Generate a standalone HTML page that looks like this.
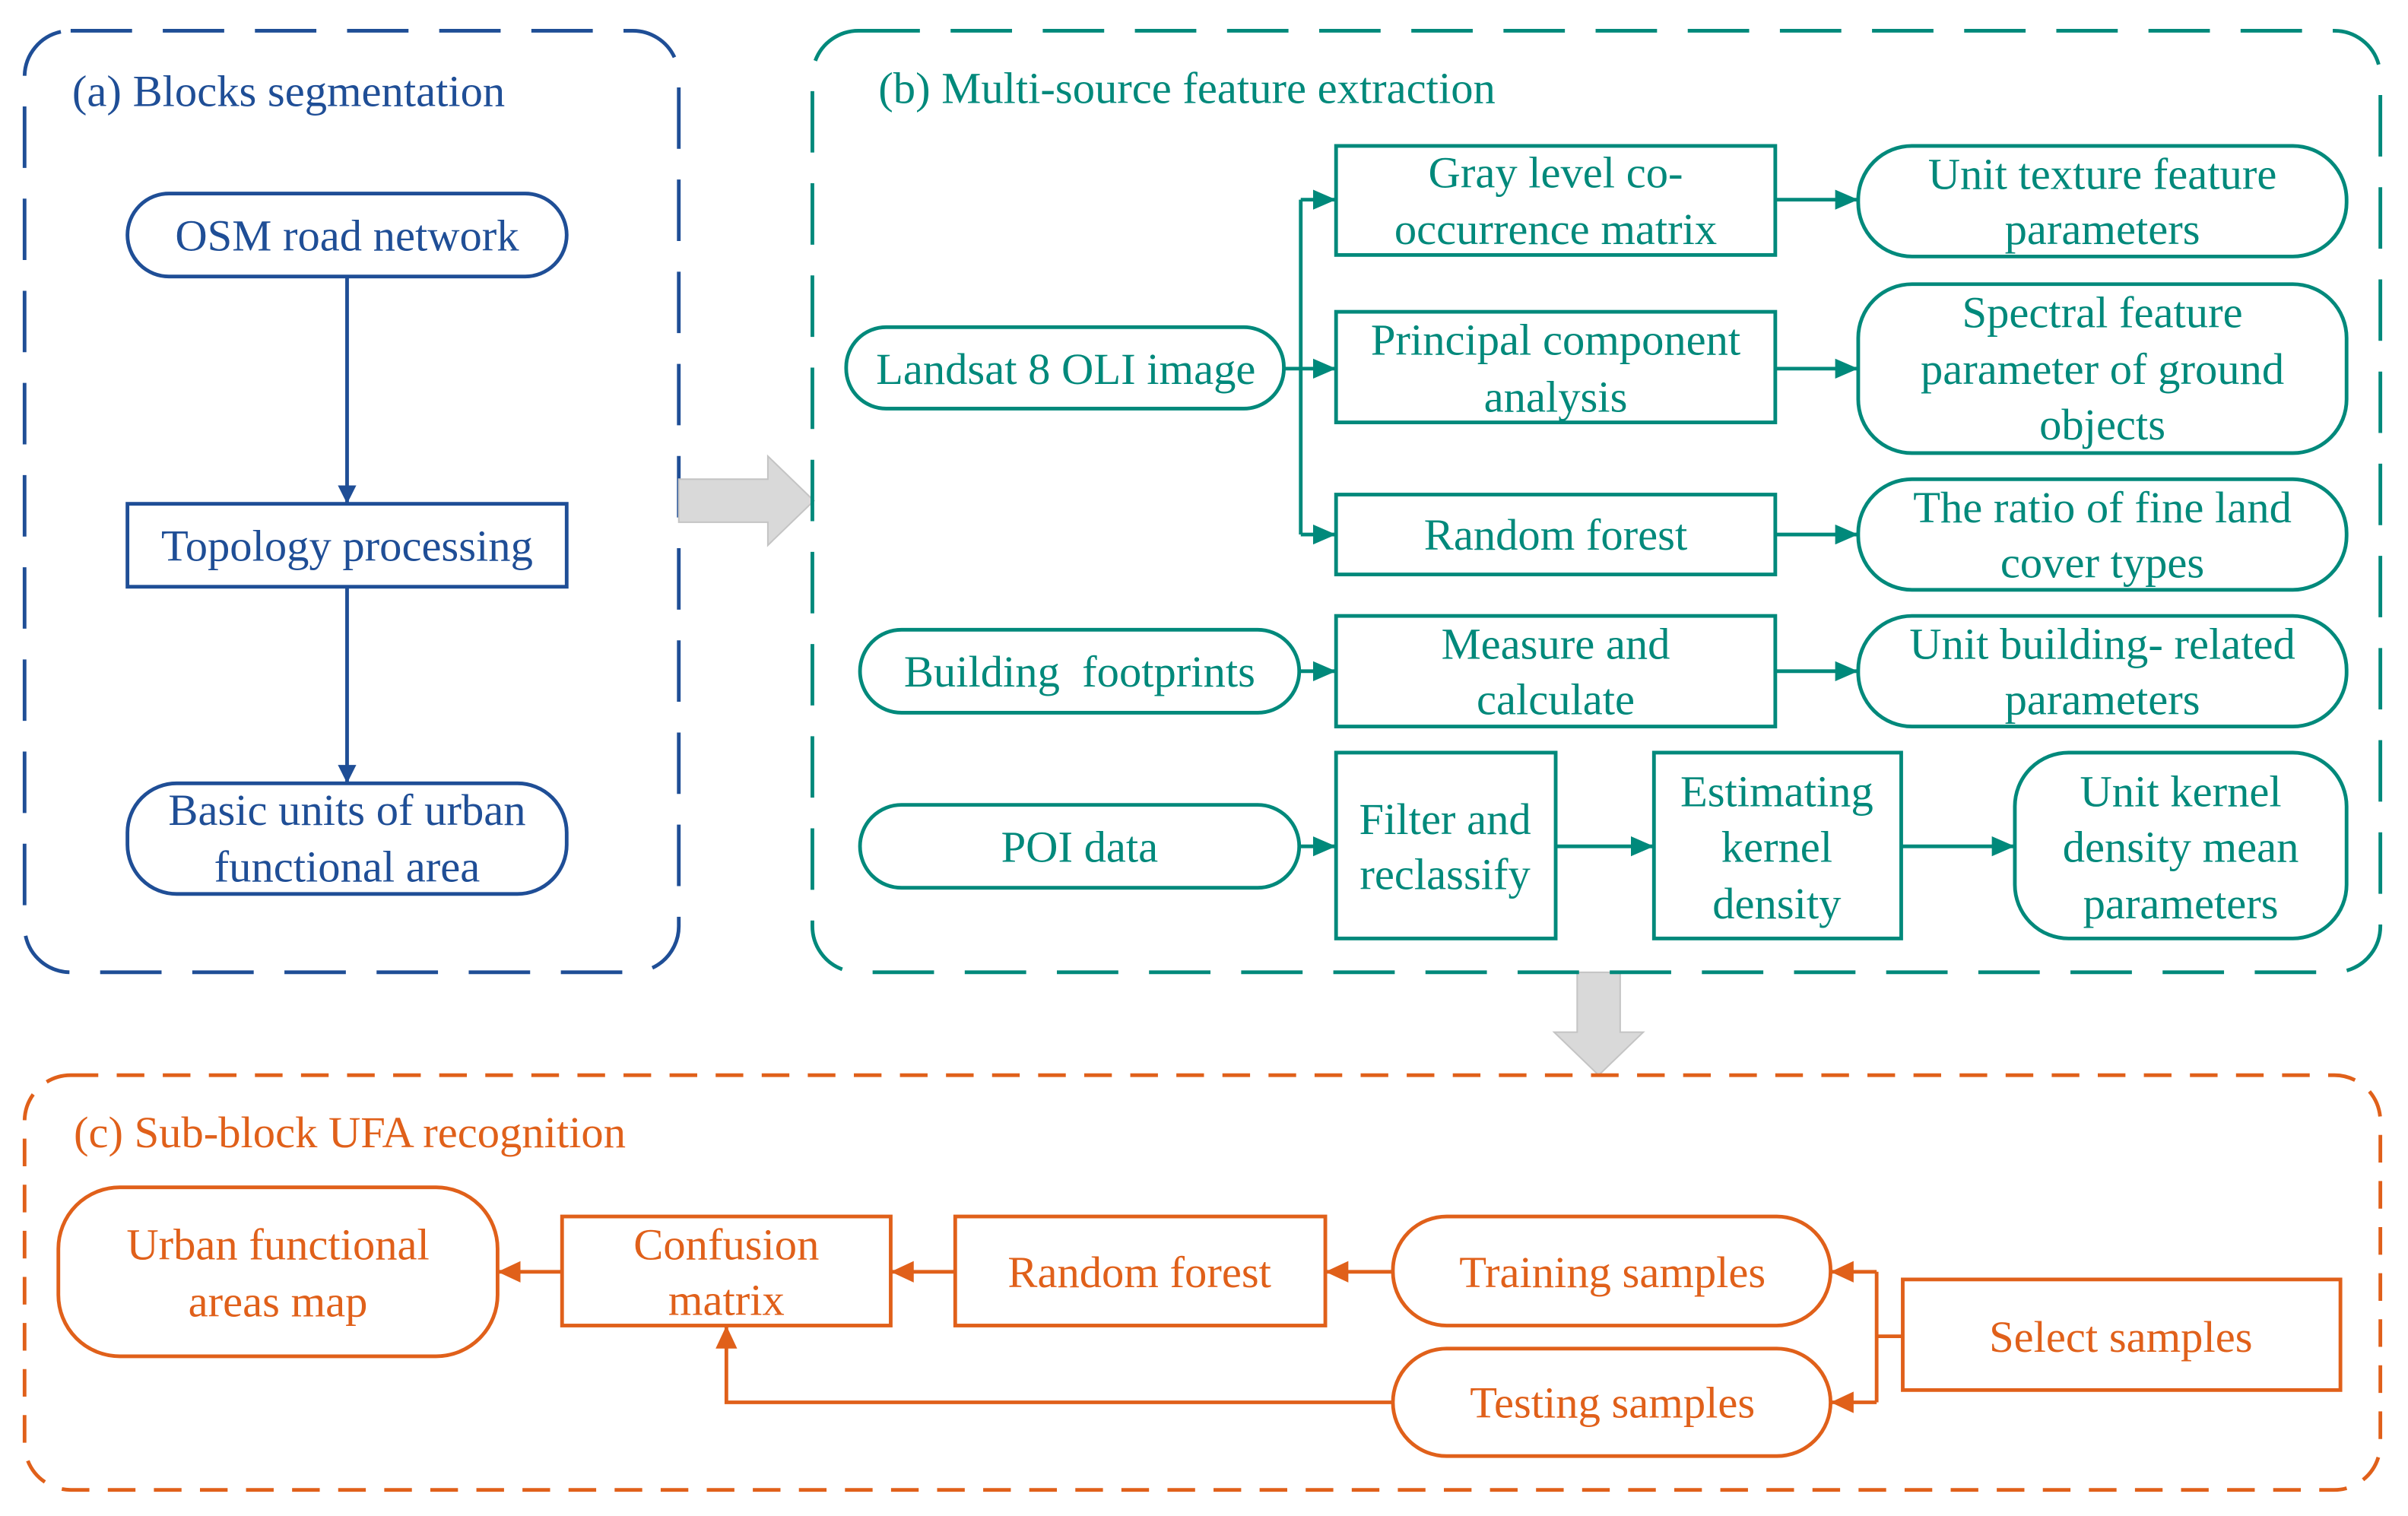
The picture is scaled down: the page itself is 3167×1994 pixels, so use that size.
<!DOCTYPE html>
<html><head><meta charset="utf-8"><style>html,body{margin:0;padding:0;background:#fff}svg{display:block}text{font-family:"Liberation Serif","Times New Roman",serif}</style></head>
<body>
<svg width="3167" height="1994" viewBox="0 0 1568 987" preserveAspectRatio="none" xmlns="http://www.w3.org/2000/svg" style="font-family:'Liberation Serif',serif" font-size="29" text-anchor="middle">
<defs>
<marker id="ab" markerWidth="12" markerHeight="12" refX="11" refY="6" orient="auto" markerUnits="userSpaceOnUse"><path d="M0,0 L12,6 L0,12 z" fill="#1f4e96"/></marker>
<marker id="at" markerWidth="15" markerHeight="13" refX="14" refY="6.5" orient="auto" markerUnits="userSpaceOnUse"><path d="M0,0 L15,6.5 L0,13 z" fill="#00897b"/></marker>
<marker id="ao" markerWidth="15" markerHeight="14" refX="14" refY="7" orient="auto" markerUnits="userSpaceOnUse"><path d="M0,0 L15,7 L0,14 z" fill="#e0601a"/></marker>
</defs>
<g stroke="#1f4e96" fill="none" stroke-width="2.4">
<rect x="16" y="20" width="426" height="613" rx="30" stroke-dasharray="40,20"/>
<rect x="83" y="126" width="286" height="54" rx="27"/>
<rect x="83" y="328" width="286" height="54"/>
<rect x="83" y="510" width="286" height="72" rx="32"/>
<line x1="226" y1="180" x2="226" y2="327" marker-end="url(#ab)"/>
<line x1="226" y1="382" x2="226" y2="509" marker-end="url(#ab)"/>
</g>
<g fill="#1f4e96">
<text x="47" y="69" text-anchor="start">(a) Blocks segmentation</text>
<text x="226" y="163">OSM road network</text>
<text x="226" y="365">Topology processing</text>
<text x="226" y="537">Basic units of urban</text>
<text x="226" y="574">functional area</text>
</g>
<path d="M442,312 L500,312 L500,297 L530,326 L500,355 L500,340 L442,340 z" fill="#d9d9d9" stroke="#c4c4c4" stroke-width="1"/>
<path d="M1027,633 L1055,633 L1055,672 L1070,672 L1041,700 L1012,672 L1027,672 z" fill="#d9d9d9" stroke="#c4c4c4" stroke-width="1"/>
<g stroke="#00897b" fill="none" stroke-width="2.4">
<rect x="529" y="20" width="1021" height="613" rx="30" stroke-dasharray="40,20"/>
<rect x="551" y="213" width="285" height="53" rx="26"/>
<rect x="870" y="95" width="286" height="71"/>
<rect x="870" y="203" width="286" height="72"/>
<rect x="870" y="322" width="286" height="52"/>
<rect x="1210" y="95" width="318" height="72" rx="35"/>
<rect x="1210" y="185" width="318" height="110" rx="35"/>
<rect x="1210" y="312" width="318" height="72" rx="35"/>
<rect x="1210" y="401" width="318" height="72" rx="35"/>
<rect x="560" y="410" width="286" height="54" rx="27"/>
<rect x="870" y="401" width="286" height="72"/>
<rect x="560" y="524" width="286" height="54" rx="27"/>
<rect x="870" y="490" width="143" height="121"/>
<rect x="1077" y="490" width="161" height="121"/>
<rect x="1312" y="490" width="216" height="121" rx="35"/>
<polyline points="836,240 847,240"/>
<polyline points="847,348 847,130"/>
<line x1="847" y1="130" x2="869" y2="130" marker-end="url(#at)"/>
<line x1="847" y1="240" x2="869" y2="240" marker-end="url(#at)"/>
<line x1="847" y1="348" x2="869" y2="348" marker-end="url(#at)"/>
<line x1="1156" y1="130" x2="1209" y2="130" marker-end="url(#at)"/>
<line x1="1156" y1="240" x2="1209" y2="240" marker-end="url(#at)"/>
<line x1="1156" y1="348" x2="1209" y2="348" marker-end="url(#at)"/>
<line x1="1156" y1="437" x2="1209" y2="437" marker-end="url(#at)"/>
<line x1="846" y1="437" x2="869" y2="437" marker-end="url(#at)"/>
<line x1="846" y1="551" x2="869" y2="551" marker-end="url(#at)"/>
<line x1="1013" y1="551" x2="1076" y2="551" marker-end="url(#at)"/>
<line x1="1238" y1="551" x2="1311" y2="551" marker-end="url(#at)"/>
</g>
<g fill="#00897b">
<text x="572" y="67" text-anchor="start">(b) Multi-source feature extraction</text>
<text x="694" y="250">Landsat 8 OLI image</text>
<text x="1013" y="122">Gray level co-</text>
<text x="1013" y="159">occurrence matrix</text>
<text x="1013" y="231">Principal component</text>
<text x="1013" y="268">analysis</text>
<text x="1013" y="358">Random forest</text>
<text x="1369" y="123">Unit texture feature</text>
<text x="1369" y="159">parameters</text>
<text x="1369" y="213">Spectral feature</text>
<text x="1369" y="250">parameter of ground</text>
<text x="1369" y="286">objects</text>
<text x="1369" y="340">The ratio of fine land</text>
<text x="1369" y="376">cover types</text>
<text x="703" y="447" xml:space="preserve">Building  footprints</text>
<text x="1013" y="429">Measure and</text>
<text x="1013" y="465">calculate</text>
<text x="1369" y="429">Unit building- related</text>
<text x="1369" y="465">parameters</text>
<text x="703" y="561">POI data</text>
<text x="941" y="543">Filter and</text>
<text x="941" y="579">reclassify</text>
<text x="1157" y="525">Estimating</text>
<text x="1157" y="561">kernel</text>
<text x="1157" y="598">density</text>
<text x="1420" y="525">Unit kernel</text>
<text x="1420" y="561">density mean</text>
<text x="1420" y="598">parameters</text>
</g>
<g stroke="#e0601a" fill="none" stroke-width="2.4">
<rect x="16" y="700" width="1534" height="270" rx="30" stroke-dasharray="18,12"/>
<rect x="38" y="773" width="286" height="110" rx="40"/>
<rect x="366" y="792" width="214" height="71"/>
<rect x="622" y="792" width="241" height="71"/>
<rect x="907" y="792" width="285" height="71" rx="35"/>
<rect x="907" y="878" width="285" height="70" rx="35"/>
<rect x="1239" y="833" width="285" height="72"/>
<line x1="366" y1="828" x2="325" y2="828" marker-end="url(#ao)"/>
<line x1="622" y1="828" x2="581" y2="828" marker-end="url(#ao)"/>
<line x1="907" y1="828" x2="864" y2="828" marker-end="url(#ao)"/>
<polyline points="1239,870 1222,870"/>
<polyline points="1222,828 1222,913"/>
<line x1="1222" y1="828" x2="1193" y2="828" marker-end="url(#ao)"/>
<line x1="1222" y1="913" x2="1193" y2="913" marker-end="url(#ao)"/>
<polyline points="907,913 473,913 473,864" marker-end="url(#ao)"/>
</g>
<g fill="#e0601a">
<text x="48" y="747" text-anchor="start">(c) Sub-block UFA recognition</text>
<text x="181" y="820">Urban functional</text>
<text x="181" y="857">areas map</text>
<text x="473" y="820">Confusion</text>
<text x="473" y="856">matrix</text>
<text x="742" y="838">Random forest</text>
<text x="1050" y="838">Training samples</text>
<text x="1050" y="923">Testing samples</text>
<text x="1381" y="880">Select samples</text>
</g>
</svg>
</body></html>
